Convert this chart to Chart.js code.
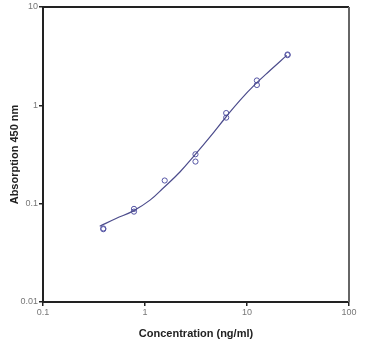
<!DOCTYPE html>
<html><head><meta charset="utf-8">
<script src="https://cdn.jsdelivr.net/npm/chart.js@4"></script>
<style>html,body{margin:0;padding:0;background:#fff}#w{width:371px;height:341px}</style>
</head><body><div id="w"><canvas id="c"></canvas></div>
<script>
const concentrations = [0.39, 0.39, 0.78, 0.78, 1.56, 3.125, 3.125, 6.25, 6.25, 12.5, 12.5, 25, 25];
const absorbance     = [0.055, 0.056, 0.0885, 0.083, 0.172, 0.318, 0.268, 0.835, 0.75, 1.79, 1.61, 3.24, 3.29];
const curveX = [0.36, 0.52, 0.77, 1.12, 1.53, 2.2, 3.07, 4.34, 6.22, 8.53, 12.2, 16.8, 24.5];
const curveY = [0.059, 0.0707, 0.0845, 0.1086, 0.146, 0.21, 0.311, 0.477, 0.761, 1.125, 1.66, 2.26, 3.22];
const xTicks = [0.1, 1, 10, 100];
const yTicks = [0.01, 0.1, 1, 10];

const frame = {
  id: 'frame',
  afterDatasetsDraw(chart) {
    const {ctx, chartArea: a} = chart;
    ctx.save();
    ctx.strokeStyle = '#222'; ctx.lineWidth = 2;
    ctx.beginPath(); ctx.moveTo(a.left, a.top); ctx.lineTo(a.right, a.top); ctx.stroke();
    ctx.strokeStyle = '#666';
    ctx.beginPath(); ctx.moveTo(a.right, a.top); ctx.lineTo(a.right, a.bottom); ctx.stroke();
    ctx.restore();
  }
};

new Chart(document.getElementById('c'), {
  data: {
    datasets: [
      { type: 'line', data: curveX.map((x, i) => ({x, y: curveY[i]})), borderColor: '#4c4c8c', borderWidth: 1.2, pointRadius: 0, tension: 0.4, fill: false },
      { type: 'scatter', data: concentrations.map((x, i) => ({x, y: absorbance[i]})), borderColor: '#5555a5', backgroundColor: 'rgba(255,255,255,0)', borderWidth: 1, pointRadius: 2.6 }
    ]
  },
  options: {
    responsive: true, maintainAspectRatio: false, animation: false,
    layout: { padding: { top: 7, right: 22, left: 0, bottom: 0 } },
    plugins: { legend: { display: false }, tooltip: { enabled: false } },
    scales: {
      x: {
        type: 'logarithmic', min: 0.1, max: 100,
        afterBuildTicks: s => { s.ticks = xTicks.map(v => ({value: v})); },
        afterFit: s => { s.height = 39; },
        ticks: { callback: v => String(v), color: '#777', font: { family: 'Liberation Sans', size: 9 }, padding: 1, maxRotation: 0, autoSkip: false },
        grid: { drawOnChartArea: false, tickLength: 4, color: '#222', lineWidth: 1.5 },
        border: { color: '#222', width: 2 },
        title: { display: true, text: 'Concentration (ng/ml)', color: '#222', font: { family: 'Liberation Sans', size: 11, weight: 'bold' }, padding: { top: 6, bottom: 0 } }
      },
      y: {
        type: 'logarithmic', min: 0.01, max: 10,
        afterBuildTicks: s => { s.ticks = yTicks.map(v => ({value: v})); },
        afterFit: s => { s.width = 43; },
        ticks: { callback: v => String(v), color: '#777', font: { family: 'Liberation Sans', size: 9 }, padding: 1, autoSkip: false },
        grid: { drawOnChartArea: false, tickLength: 4, color: '#222', lineWidth: 1.5 },
        border: { color: '#222', width: 2 },
        title: { display: true, text: 'Absorption 450 nm', color: '#222', font: { family: 'Liberation Sans', size: 11, weight: 'bold' }, padding: { top: 8, bottom: 0 } }
      }
    }
  },
  plugins: [frame]
});
</script></body></html>
